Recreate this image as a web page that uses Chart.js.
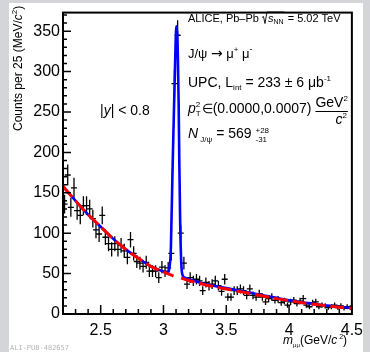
<!DOCTYPE html>
<html>
<head>
<meta charset="utf-8">
<script src="https://cdn.jsdelivr.net/npm/chart.js@4.4.1/dist/chart.umd.min.js"></script>
<style>
  html, body { margin: 0; padding: 0; }
  body { width: 370px; height: 352px; background: #d3d5d9; position: relative; overflow: hidden; }
  #sheet { position: absolute; left: 9px; top: 3px; width: 354px; height: 349px; background: #fff; }
  #graph { position: absolute; left: 0; top: 0; }
</style>
</head>
<body>
<div id="sheet"></div>
<canvas id="graph" width="370" height="352"></canvas>
<script>
// histogram binning (GeV/c^2)
const binLow = 2.2;
const binWidth = 0.025;

// counts per 25 MeV/c^2 bin
const counts = [136, 172, 132, 156, 128, 122, 134, 134, 130, 118,
    104, 99, 122, 95, 87, 80, 87, 80, 85, 78,
    70, 92, 75, 65, 63, 59, 64, 53, 53, 53,
    45, 58, 53, 57, 75, 285, 345, 100, 63, 37,
    45, 41, 43, 41, 29, 39, 35, 37, 41, 35,
    28, 43, 21, 21, 29, 29, 31, 29, 23, 31,
    23, 21, 25, 21, 15, 19, 21, 17, 18, 14,
    16, 11, 15, 17, 13, 16, 19, 11, 9, 14,
    15, 9, 11, 10, 8, 9, 11, 8, 10, 7,
    9, 8];

const countErrors = [11.7, 13.1, 11.5, 12.5, 11.3, 11.0, 11.6, 11.6, 11.4, 10.9,
    10.2, 9.9, 11.0, 9.7, 9.3, 8.9, 9.3, 8.9, 9.2, 8.8,
    8.4, 9.6, 8.7, 8.1, 7.9, 7.7, 8.0, 7.3, 7.3, 7.3,
    6.7, 7.6, 7.3, 7.5, 8.7, 16.9, 18.6, 10.0, 7.9, 6.1,
    6.7, 6.4, 6.6, 6.4, 5.4, 6.2, 5.9, 6.1, 6.4, 5.9,
    5.3, 6.6, 4.6, 4.6, 5.4, 5.4, 5.6, 5.4, 4.8, 5.6,
    4.8, 4.6, 5.0, 4.6, 3.9, 4.4, 4.6, 4.1, 4.2, 3.7,
    4.0, 3.3, 3.9, 4.1, 3.6, 4.0, 4.4, 3.3, 3.0, 3.7,
    3.9, 3.0, 3.3, 3.2, 2.8, 3.0, 3.3, 2.8, 3.2, 2.6,
    3.0, 2.8];

// total fit (blue)
const totalFitMass = [2.2, 2.3, 2.4, 2.5, 2.6, 2.7, 2.8, 2.9, 3.0, 3.035, 3.048, 3.059, 3.071, 3.083, 3.091, 3.097,
    3.103, 3.109, 3.115, 3.121, 3.126, 3.133, 3.142, 3.15, 3.17, 3.2, 3.3, 3.4, 3.5, 3.6, 3.7, 3.8, 3.9,
    4.0, 4.1, 4.2, 4.3, 4.4, 4.5];
const totalFitValue = [158, 140, 123, 108, 93, 80, 69, 59, 52.5, 51, 58, 82, 170, 250, 300, 338,
    356, 348, 315, 258, 190, 112, 62, 49, 45, 43, 38.5, 35, 32, 29, 26, 23, 20,
    17, 14.5, 12.5, 10.5, 9, 7.5];

// background fit (red dashed)
const bkgFitMass = [2.2, 2.3, 2.4, 2.5, 2.6, 2.7, 2.8, 2.9, 3.0, 3.08, 3.11, 3.14, 3.2, 3.3, 3.4, 3.5, 3.6,
    3.7, 3.8, 3.9, 4.0, 4.1, 4.2, 4.3, 4.4, 4.5];
const bkgFitValue = [158, 140, 123, 108, 93, 80, 69, 59, 52, 47, null, 44.5, 41.5, 37.5, 34, 31, 28,
    25, 22, 19, 16.5, 14, 12, 10, 8.5, 7];

const xTicks = [2.5, 3, 3.5, 4, 4.5];
const yTicks = [0, 50, 100, 150, 200, 250, 300, 350];

const FONT = '"Liberation Sans", Arial, Helvetica, sans-serif';

function drawRich(ctx, x, y, parts) {
    // parts: [text, size, italic, dy, family]
    let cx = x;
    parts.forEach(p => {
        ctx.font = (p[2] ? 'italic ' : '') + p[1] + 'px ' + (p[4] || FONT);
        ctx.fillText(p[0], cx, y + (p[3] || 0));
        cx += ctx.measureText(p[0]).width;
    });
    return cx;
}

function textWidth(ctx, txt, size, italic) {
    ctx.font = (italic ? 'italic ' : '') + size + 'px ' + FONT;
    return ctx.measureText(txt).width;
}

const rootStyle = {
    id: 'rootStyle',
    beforeDatasetsDraw(chart) {
        const ctx = chart.ctx;
        const xs = chart.scales.x, ys = chart.scales.y;
        const a = chart.chartArea;
        ctx.save();
        ctx.beginPath();
        ctx.rect(a.left, a.top, a.right - a.left, a.bottom - a.top);
        ctx.clip();
        ctx.strokeStyle = '#000';
        ctx.lineWidth = 1.3;
        counts.forEach((v, i) => {
            const m = binLow + (i + 0.5) * binWidth;
            const px = xs.getPixelForValue(m);
            const py = ys.getPixelForValue(v);
            const x1 = Math.min(xs.getPixelForValue(m - binWidth / 2), px - 3);
            const x2 = Math.max(xs.getPixelForValue(m + binWidth / 2), px + 3);
            ctx.beginPath();
            ctx.moveTo(x1, py);
            ctx.lineTo(x2, py);
            ctx.moveTo(px, ys.getPixelForValue(v - countErrors[i]));
            ctx.lineTo(px, ys.getPixelForValue(v + countErrors[i]));
            ctx.stroke();
        });
        ctx.restore();
    },
    afterDraw(chart) {
        const ctx = chart.ctx;
        const xs = chart.scales.x, ys = chart.scales.y;
        const a = chart.chartArea;
        ctx.save();
        ctx.strokeStyle = '#000';
        ctx.fillStyle = '#000';

        // ticks pointing inward
        ctx.lineWidth = 1.5;
        ctx.beginPath();
        for (let k = 23; k <= 45; k++) {
            const m = k / 10;
            const px = xs.getPixelForValue(m);
            const len = (k % 5 === 0) ? 9 : 5;
            ctx.moveTo(px, a.bottom);
            ctx.lineTo(px, a.bottom - len);
        }
        for (let v = 10; v <= 370; v += 10) {
            const py = ys.getPixelForValue(v);
            const len = (v % 50 === 0) ? 8 : 4;
            ctx.moveTo(a.left, py);
            ctx.lineTo(a.left + len, py);
        }
        ctx.stroke();

        // frame
        ctx.lineWidth = 2;
        ctx.strokeRect(a.left, a.top, a.right - a.left, a.bottom - a.top);

        ctx.textAlign = 'left';
        ctx.textBaseline = 'alphabetic';

        // y title
        ctx.save();
        ctx.translate(22, 131);
        ctx.rotate(-Math.PI / 2);
        drawRich(ctx, 0, 0, [['Counts per 25 (MeV/', 12], ['c', 12, true], ['2', 8, false, -5], [')', 12]]);
        ctx.restore();

        // x title
        drawRich(ctx, 283, 344, [['m', 12, true], ['\u03bc\u03bc', 6, false, 3], ['(GeV/', 12],
            ['c', 12, true], [' 2', 7, false, -5], [')', 12]]);

        // ALICE label with sqrt(s_NN)
        let x = drawRich(ctx, 188, 22, [['ALICE, Pb\u2013Pb ', 11]]);
        const rw = textWidth(ctx, 's', 11, true) + textWidth(ctx, 'NN', 7, false) + 1;
        ctx.lineWidth = 0.9;
        ctx.beginPath();
        ctx.moveTo(x, 17.5);
        ctx.lineTo(x + 1.5, 16.5);
        ctx.lineTo(x + 3, 23.5);
        ctx.lineTo(x + 5, 12);
        ctx.lineTo(x + 6 + rw, 12);
        ctx.stroke();
        x = drawRich(ctx, x + 6, 22, [['s', 11, true], ['NN', 7, false, 2]]);
        drawRich(ctx, x + 1, 22, [[' = 5.02 TeV', 11]]);

        // decay channel
        drawRich(ctx, 188, 58, [['J/\u03c8 ', 13], ['\u2192', 14, false, 0, '"DejaVu Sans", sans-serif'],
            [' \u03bc', 13], ['+', 8, false, -6], [' \u03bc', 13], ['-', 9, false, -6]]);

        // luminosity
        drawRich(ctx, 188, 87, [['UPC, L', 14], ['int', 8, false, 3], [' = 233 \u00b1 6 \u03bcb', 14],
            ['-1', 8, false, -6]]);

        // pT^2 range
        x = drawRich(ctx, 188, 113, [['p', 14, true]]);
        drawRich(ctx, x, 107, [['2', 8]]);
        drawRich(ctx, x, 116, [['T', 8]]);
        x += textWidth(ctx, 'T', 8, false) + 1;
        x = drawRich(ctx, x, 113, [['\u2208', 13], ['(0.0000,0.0007) ', 14]]);
        const gw = textWidth(ctx, 'GeV', 14, false) + textWidth(ctx, '2', 8, false);
        drawRich(ctx, x, 107, [['GeV', 14], ['2', 8, false, -6]]);
        ctx.lineWidth = 1.2;
        ctx.beginPath();
        ctx.moveTo(x, 111.5);
        ctx.lineTo(x + gw, 111.5);
        ctx.stroke();
        const cw = textWidth(ctx, 'c', 14, true) + textWidth(ctx, '2', 8, false);
        drawRich(ctx, x + gw - cw - 1, 124, [['c', 14, true], ['2', 8, false, -6]]);

        // signal yield
        x = drawRich(ctx, 188, 138, [['N', 14, true], [' J/\u03c8', 8, false, 4], [' = 569 ', 14]]);
        drawRich(ctx, x, 133, [['+28', 8]]);
        drawRich(ctx, x, 142, [['-31', 8]]);

        // rapidity
        drawRich(ctx, 100, 115, [['|', 14], ['y', 14, true], ['| < 0.8', 14]]);

        // publication tag
        ctx.fillStyle = '#b5b5b5';
        ctx.font = '7px "DejaVu Sans Mono", monospace';
        ctx.fillText('ALI-PUB-482657', 10, 350);
        ctx.restore();
    }
};

const canvas = document.getElementById('graph');
const chart = new Chart(canvas.getContext('2d'), {
    type: 'scatter',
    data: {
        datasets: [{
            label: 'background',
            data: bkgFitMass.map((m, i) => ({ x: m, y: bkgFitValue[i] })),
            showLine: true,
            borderColor: '#ff0000',
            borderWidth: 3,
            borderDash: [14, 5],
            pointRadius: 0,
            spanGaps: false,
            cubicInterpolationMode: 'monotone',
            order: 0
        }, {
            label: 'total fit',
            data: totalFitMass.map((m, i) => ({ x: m, y: totalFitValue[i] })),
            showLine: true,
            borderColor: '#0000ff',
            borderWidth: 2.6,
            pointRadius: 0,
            cubicInterpolationMode: 'monotone',
            order: 1
        }]
    },
    options: {
        responsive: false,
        animation: false,
        devicePixelRatio: 1,
        layout: { padding: { left: 33, top: 5, right: 14, bottom: 14 } },
        plugins: { legend: { display: false }, tooltip: { enabled: false } },
        scales: {
            x: {
                type: 'linear',
                min: 2.2,
                max: 4.5,
                afterBuildTicks: s => { s.ticks = xTicks.map(v => ({ value: v })); },
                afterFit: s => { s.height = 24; },
                grid: { display: false, drawTicks: false },
                border: { display: false },
                ticks: {
                    color: '#000', padding: 7, maxRotation: 0, autoSkip: false,
                    font: { family: FONT, size: 16 },
                    callback: v => String(v)
                }
            },
            y: {
                type: 'linear',
                min: 0,
                max: 373,
                afterBuildTicks: s => { s.ticks = yTicks.map(v => ({ value: v })); },
                afterFit: s => { s.width = 30; },
                grid: { display: false, drawTicks: false },
                border: { display: false },
                ticks: {
                    color: '#000', padding: 3, autoSkip: false,
                    font: { family: FONT, size: 16 },
                    callback: v => String(v)
                }
            }
        }
    },
    plugins: [rootStyle]
});
</script>
</body>
</html>
